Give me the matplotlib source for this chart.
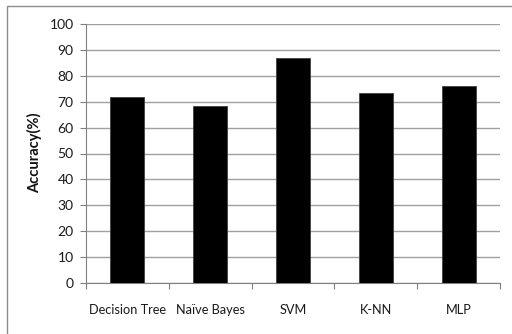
import matplotlib.pyplot as plt
from matplotlib.patches import Rectangle

classifiers = ['Decision Tree', 'Naïve Bayes', 'SVM', 'K-NN', 'MLP']
accuracy = [71.9, 68.2, 86.7, 73.4, 76.2]
y_ticks = list(range(0, 101, 10))

plt.rcParams['font.family'] = ['Lato', 'DejaVu Sans']

fig = plt.figure(figsize=(5.12, 3.34), dpi=100)
ax = fig.add_axes([86 / 512, 1 - 283 / 334, 414 / 512, 259 / 334])

# chart border
fig.patches.append(Rectangle((7 / 512, -0.1), 1.2, 1 - 6 / 334 + 0.1,
                             transform=fig.transFigure, fill=False,
                             edgecolor='#8c8c8c', linewidth=1))

x = list(range(len(classifiers)))
ax.bar(x, accuracy, width=0.41, color='black', edgecolor='#404040',
       linewidth=0.6, zorder=3)

ax.set_xlim(-0.5, len(classifiers) - 0.5)
ax.set_ylim(0, 100)
ax.set_yticks(y_ticks)
ax.grid(axis='y', color='#a0a0a0', linewidth=1, zorder=0)

ax.set_xticks([i - 0.5 for i in range(len(classifiers) + 1)], minor=False)
ax.set_xticklabels([])
ax.set_xticks(x, minor=True)
ax.set_xticklabels(classifiers, minor=True)
ax.tick_params(axis='x', which='minor', length=0, pad=15, labelsize=9.2,
               labelcolor='#1a1a1a')
ax.tick_params(axis='x', which='major', length=4, color='#808080')
ax.tick_params(axis='y', length=4, color='#808080', pad=5, labelsize=10,
               labelcolor='#1a1a1a')

for side in ['top', 'right']:
    ax.spines[side].set_visible(False)
for side in ['left', 'bottom']:
    ax.spines[side].set_color('#808080')

fig.text(35 / 512, 1 - 153 / 334, 'Accuracy(%)', rotation=90, ha='center',
         va='center', fontsize=10.5, fontweight='bold', color='#111111')

plt.savefig('out.png', dpi=100)
